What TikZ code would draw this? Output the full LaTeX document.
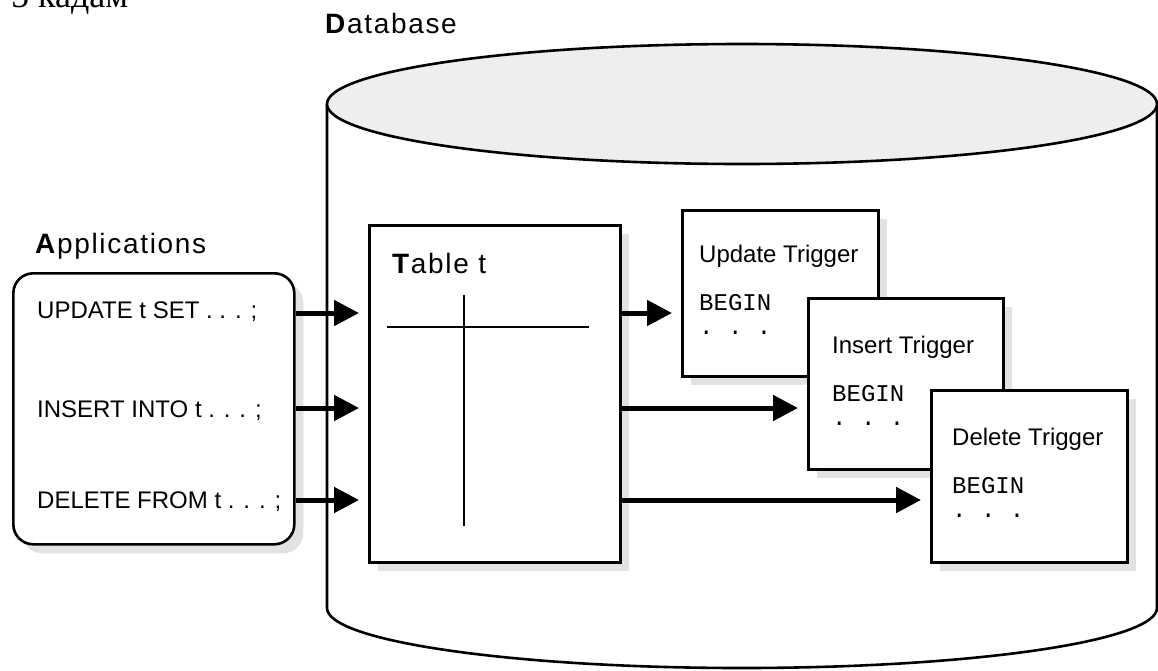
\documentclass[tikz,border=0pt]{standalone}
\usepackage{fontspec}
\setmainfont{Liberation Sans}
\newfontfamily\serifcyr{Liberation Serif}
\newfontfamily\monof{Liberation Mono}
\newfontfamily\headf[LetterSpace=6]{Liberation Sans}
\usetikzlibrary{arrows.meta,shadows}
\definecolor{shadowgray}{HTML}{E2E2E2}
\definecolor{topgray}{HTML}{EEEEEE}
\begin{document}
\begin{tikzpicture}[x=1pt,y=-1pt,
  lw/.style={line width=2.6pt},
  box/.style={draw, lw, fill=white, rectangle, anchor=north west, inner sep=0pt,
    drop shadow={shadow xshift=9pt, shadow yshift=-9pt, fill=shadowgray, opacity=1}},
  lbl/.style={anchor=base west, inner sep=0pt, font=\fontsize{24}{28}\selectfont},
  code/.style={anchor=base west, inner sep=0pt, font=\monof\fontsize{24}{28}\selectfont},
  head/.style={anchor=base west, inner sep=0pt, font=\headf\fontsize{28}{32}\selectfont},
  arr/.style={line width=5pt, -{Triangle[length=25pt,width=25pt]}, shorten >=9pt},
]
\useasboundingbox (0,0) rectangle (1158,670);

% caption fragment at the top
\node[anchor=base west, inner sep=0pt, font=\serifcyr\fontsize{36}{40}\selectfont] (step) at (11,7) {5 кадам};

% database cylinder
\draw[lw, fill=white] (327,104) -- (327,608)
  arc[start angle=180, end angle=360, x radius=415pt, y radius=60pt] -- (1157,104);
\draw[lw, fill=topgray] (742,104) ellipse[x radius=415pt, y radius=60pt];
\node[head] (dbl) at (325,33) {\textbf{D}atabase};

% applications
\node[head] (apl) at (35,253) {\textbf{A}pplications};
\node[box, rounded corners=20pt, minimum width=281pt, minimum height=271pt] (app) at (12,272) {};
\node[lbl] (u) at (37,318) {UPDATE t SET . . . ;};
\node[lbl] (i) at (37,417) {INSERT INTO t . . . ;};
\node[lbl] (d) at (37,508) {DELETE FROM t . . . ;};

% table
\node[box, minimum width=251pt, minimum height=337pt] (tab) at (368,224) {};
\node[head] (tabl) at (392,273) {\textbf{T}able t};
\draw[lw] (387,327) -- (589,327);
\draw[lw] (464,295) -- (464,526);

% triggers
\node[box, minimum width=196pt, minimum height=166pt] (upd) at (681,209) {};
\node[lbl] (updt) at (699,262) {Update Trigger};
\node[code] (updb) at (699,310) {BEGIN};
\node[code] (updd) at (699,334) {.\ .\ .};

\node[box, minimum width=195pt, minimum height=171pt] (ins) at (807,297) {};
\node[lbl] (inst) at (832,353) {Insert Trigger};
\node[code] (insb) at (832,401) {BEGIN};
\node[code] (insd) at (832,425) {.\ .\ .};

\node[box, minimum width=196pt, minimum height=172pt] (del) at (930,389) {};
\node[lbl] (delt) at (952,445) {Delete Trigger};
\node[code] (delb) at (952,493) {BEGIN};
\node[code] (deld) at (952,517) {.\ .\ .};

% arrows
\coordinate (r1) at (0,313);
\coordinate (r2) at (0,408);
\coordinate (r3) at (0,500);
\draw[arr] (app.east |- r1) -- (tab.west |- r1);
\draw[arr] (app.east |- r2) -- (tab.west |- r2);
\draw[arr] (app.east |- r3) -- (tab.west |- r3);
\draw[arr] (tab.east |- r1) -- (upd.west |- r1);
\draw[arr] (tab.east |- r2) -- (ins.west |- r2);
\draw[arr] (tab.east |- r3) -- (del.west |- r3);
\end{tikzpicture}
\end{document}
